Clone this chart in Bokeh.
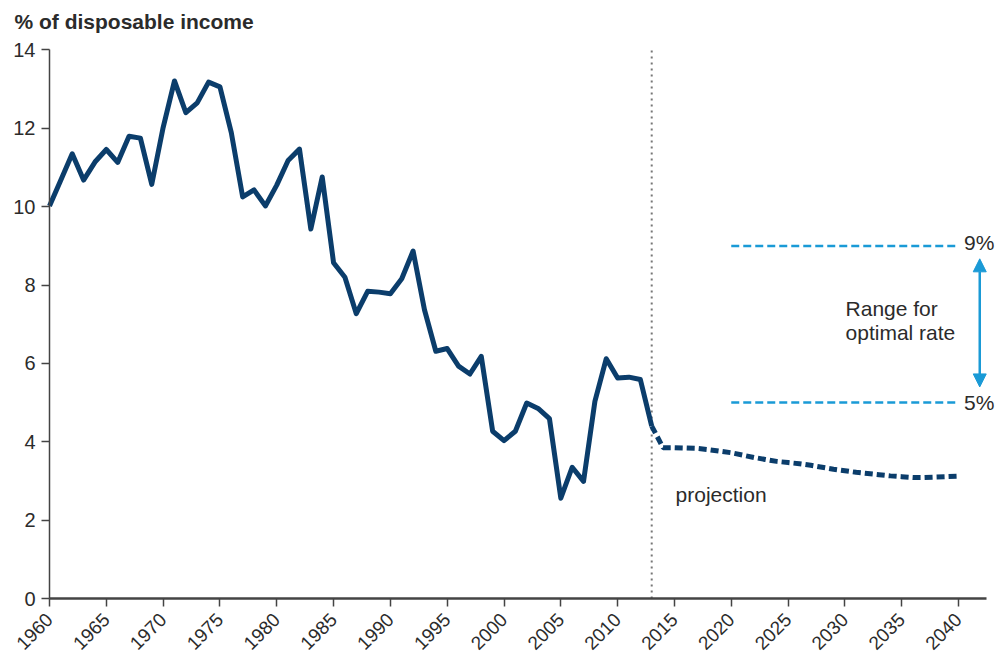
from bokeh.plotting import figure
from bokeh.models import (Range1d, FixedTicker, Label, Arrow, NormalHead)
from bokeh.embed import file_html
from bokeh.resources import INLINE
import math

# ---------------- data ----------------
hist_years = list(range(1960, 2014))
hist_values = [10.02, 10.68, 11.35, 10.68, 11.14, 11.46, 11.13, 11.80, 11.75, 10.57,
               12.02, 13.21, 12.40, 12.65, 13.18, 13.06, 11.89, 10.25, 10.43, 10.02,
               10.55, 11.18, 11.47, 9.43, 10.76, 8.57, 8.20, 7.27, 7.84, 7.82,
               7.78, 8.16, 8.87, 7.37, 6.31, 6.38, 5.93, 5.73, 6.18, 4.27,
               4.03, 4.27, 4.99, 4.85, 4.59, 2.56, 3.35, 2.99, 5.03, 6.12,
               5.63, 5.65, 5.59, 4.40]
proj_years = list(range(2013, 2041))
proj_values = [4.40, 3.85, 3.85, 3.84, 3.83, 3.80, 3.76, 3.72, 3.66, 3.60,
               3.55, 3.50, 3.47, 3.44, 3.40, 3.35, 3.30, 3.26, 3.22, 3.19,
               3.16, 3.13, 3.11, 3.09, 3.09, 3.10, 3.11, 3.12]
projection_start = 2013
optimal_low = 5
optimal_high = 9
optimal_from = 2020
optimal_to = 2040
x_ticks = list(range(1960, 2041, 5))
y_ticks = list(range(0, 15, 2))

NAVY = "#0b3d6b"
BLUE = "#1a9ad6"
TEXT = "#2b2b2b"
FONT = "Liberation Sans"

# pixel scale of the reference: 11.3625 px per year, 39.18 px per percentage point
PX_YEAR = 11.3625
PX_PCT = 39.18
X0 = 1960 - 49 / PX_YEAR          # frame starts at the canvas' left edge
X1 = 1960 + 951 / PX_YEAR
Y0 = -58 / PX_PCT                 # room for tick marks and year labels under zero
Y1 = 14 + 49.5 / PX_PCT           # room for the caption above 14

p = figure(width=1004, height=656, output_backend="svg", toolbar_location=None,
           x_range=Range1d(X0, X1), y_range=Range1d(Y0, Y1),
           min_border_left=0, min_border_right=4, min_border_top=0,
           min_border_bottom=0)
p.outline_line_color = None
p.grid.visible = False
p.background_fill_color = "white"

# y axis at 1960
yax = p.yaxis[0]
yax.fixed_location = 1960
yax.ticker = FixedTicker(ticks=y_ticks)
yax.bounds = (0, max(y_ticks))
yax.minor_tick_line_color = None
yax.major_tick_in = 0
yax.major_tick_out = 8
yax.axis_line_color = "#444444"
yax.axis_line_width = 1.5
yax.major_tick_line_color = "#444444"
yax.major_tick_line_width = 1.5
yax.major_label_text_font = FONT
yax.major_label_text_color = TEXT
yax.major_label_text_font_size = "20px"
yax.major_label_standoff = 6

# x axis at y = 0
xax = p.xaxis[0]
xax.fixed_location = 0
xax.ticker = FixedTicker(ticks=x_ticks)
xax.bounds = (1960, 2042.5)
xax.minor_tick_line_color = None
xax.major_tick_in = 0
xax.major_tick_out = 8
xax.axis_line_color = "#444444"
xax.axis_line_width = 2.5
xax.major_tick_line_color = "#444444"
xax.major_tick_line_width = 1.5
xax.major_label_orientation = math.pi / 4
xax.major_label_standoff = 10
xax.major_label_text_font = FONT
xax.major_label_text_color = TEXT
xax.major_label_text_font_size = "19px"

# projection divider
p.line([projection_start, projection_start], [0, max(y_ticks)],
       line_color="#777777", line_width=2, line_dash="2 4")

# historical series
p.line(hist_years, hist_values, line_color=NAVY, line_width=5, line_join="round")
# projection
p.line(proj_years, proj_values, line_color=NAVY, line_width=5, line_dash="8 4")

# optimal range lines
for v in (optimal_low, optimal_high):
    p.line([optimal_from, optimal_to], [v, v], line_color=BLUE, line_width=2.5,
           line_dash="8 4")

# arrow
p.add_layout(Arrow(x_start=2041.87, x_end=2041.87,
                   y_start=optimal_low + 0.4, y_end=optimal_high - 0.33,
                   line_color=BLUE, line_width=2.5,
                   start=NormalHead(size=13, fill_color=BLUE, line_color=BLUE),
                   end=NormalHead(size=13, fill_color=BLUE, line_color=BLUE)))

def lab(x, y, t, size="21px", **kw):
    p.add_layout(Label(x=x, y=y, text=t, text_font=FONT, text_font_size=size,
                       text_color=TEXT, text_baseline="alphabetic", **kw))

lab(2040.48, optimal_high + 0.08, f"{optimal_high}%")
lab(2040.48, optimal_low - 0.0, f"{optimal_low}%")
lab(2030.06, 7.40, "Range for")
lab(2030.06, 6.79, "optimal rate")
lab(2015.1, 2.66, "projection")
lab(1960 - 35 / PX_YEAR, 14 + (49.5 - 21) / PX_PCT, "% of disposable income",
    text_font_style="bold")

open("out.html", "w").write(file_html(p, INLINE))
